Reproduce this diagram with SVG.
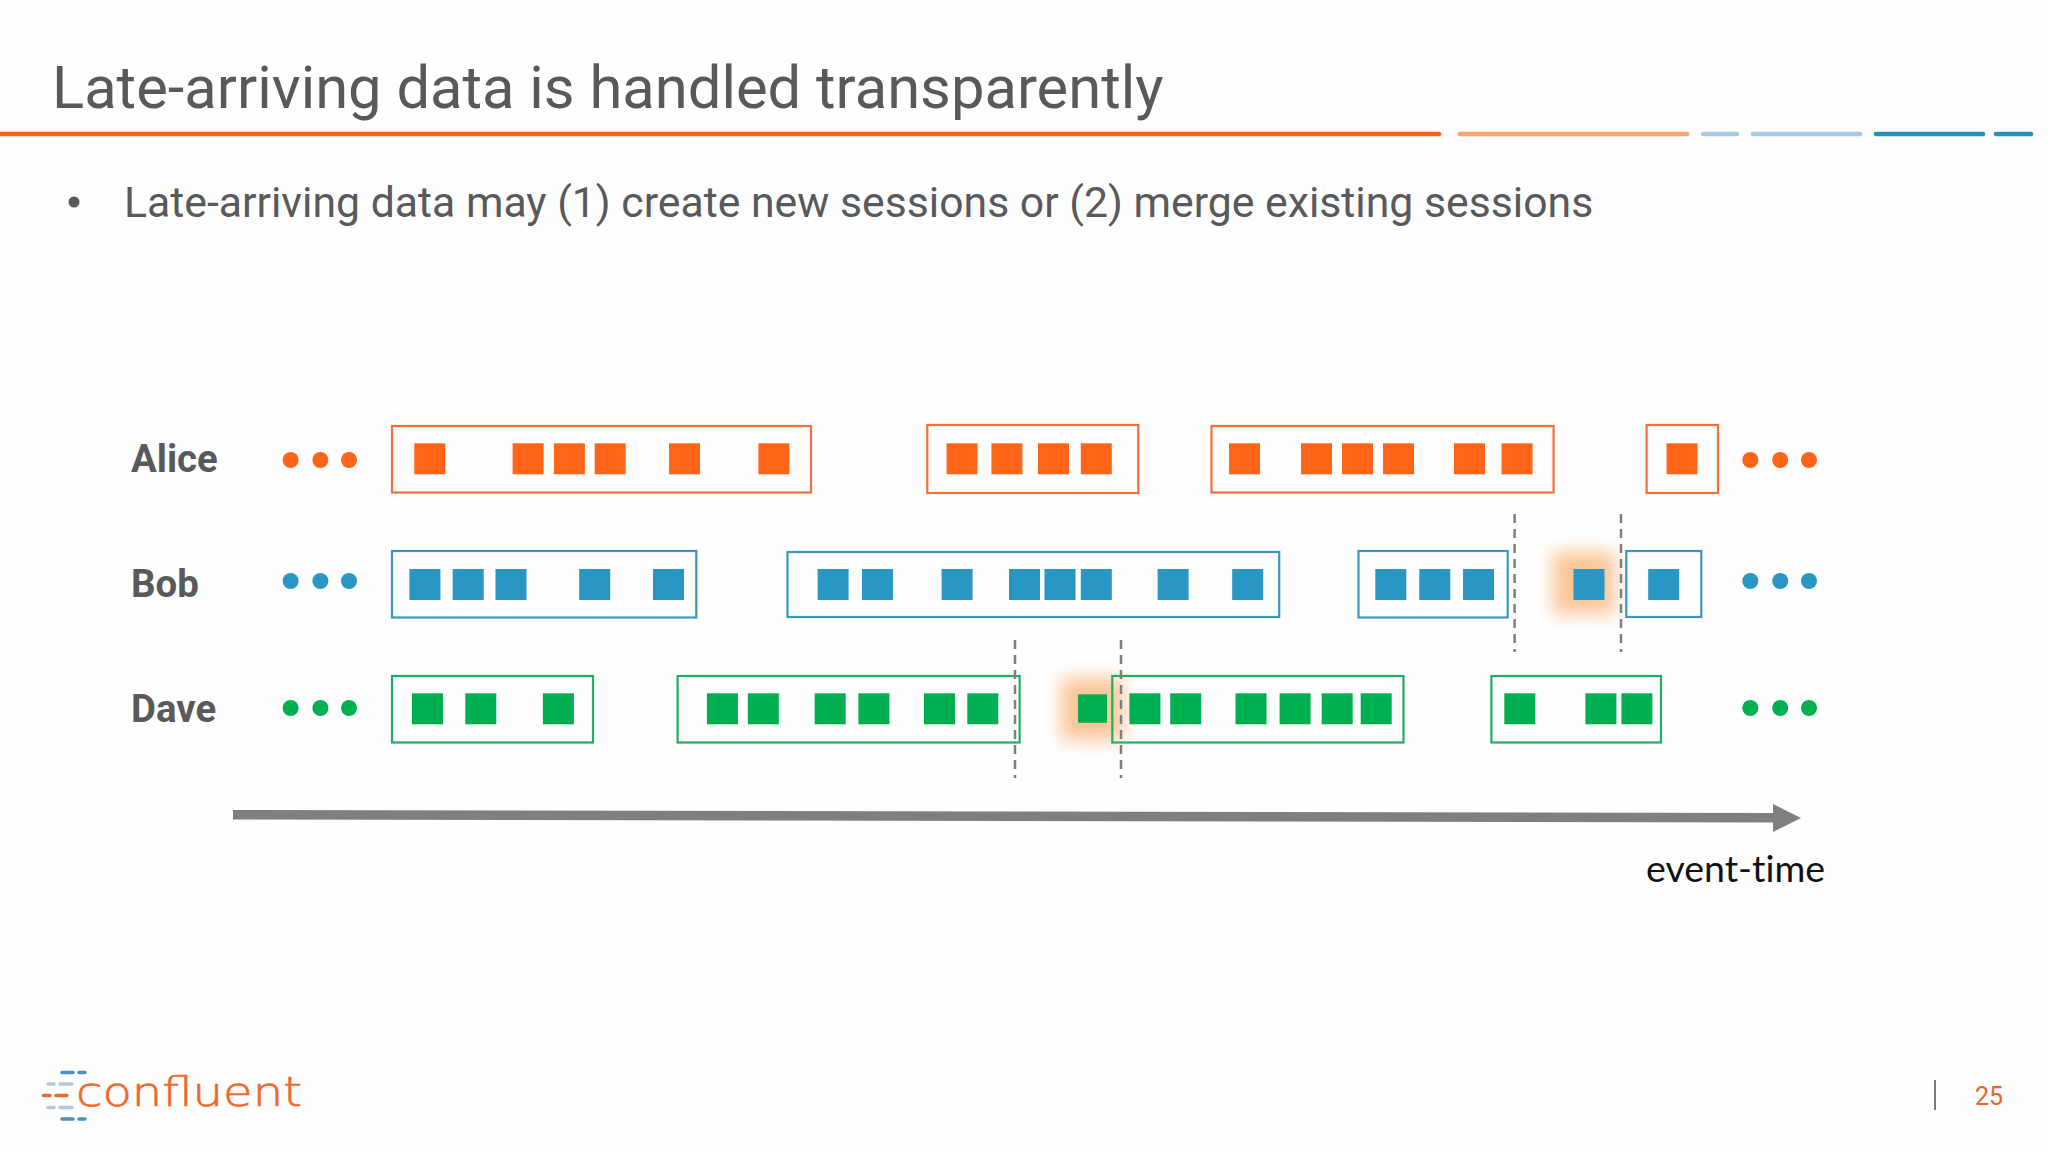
<svg xmlns="http://www.w3.org/2000/svg" width="2048" height="1152" viewBox="0 0 2048 1152">
<style>
.t{font-family:Roboto,"Liberation Sans",sans-serif;fill:#58595b}
.lab{font-size:38.400px;font-weight:700}
.o{fill:#ff6418}.b{fill:#2a96c4}.g{fill:#00b050}
.bo,.bb,.bg{fill:none;stroke-width:2.200}
.bo{stroke:#f4703a}.bb{stroke:#3a96bf}.bg{stroke:#1fae62}
.d{stroke:#7f7f80;stroke-width:2.500;stroke-dasharray:9 6;fill:none}
.hl{stroke-width:4.500;stroke-linecap:round;fill:none}
.lg{stroke-width:3.500;stroke-linecap:round;fill:none}
</style>
<defs>
<filter id="blur" x="-80%" y="-80%" width="260%" height="260%"><feGaussianBlur stdDeviation="9"/></filter>
<rect id="s" width="31" height="31"/>
</defs>
<rect width="2048" height="1152" fill="#fefefe"/>
<g id="header">
<text class="t" x="52" y="108" font-size="59.700">Late-arriving data is handled transparently</text>
<line class="hl" x1="0" y1="134" x2="1439" y2="134" stroke="#ff6418"/>
<line class="hl" x1="1460" y1="134" x2="1687" y2="134" stroke="#fba36d"/>
<line class="hl" x1="1703" y1="134" x2="1737" y2="134" stroke="#a3cbe5"/>
<line class="hl" x1="1753" y1="134" x2="1860" y2="134" stroke="#a3cbe5"/>
<line class="hl" x1="1876" y1="134" x2="1983" y2="134" stroke="#2a90b8"/>
<line class="hl" x1="1996" y1="134" x2="2031" y2="134" stroke="#2a90b8"/>
<circle cx="74" cy="202" r="5.500" fill="#58595b"/>
<text class="t" x="124" y="216.500" font-size="42.750">Late-arriving data may (1) create new sessions or (2) merge existing sessions</text>
</g>
<g id="glows">
<rect x="1553" y="552" width="62" height="62" fill="#fac596" filter="url(#blur)"/>
<rect x="1061" y="678" width="62" height="62" fill="#fac596" filter="url(#blur)"/>
</g>
<g id="alice">
<text class="t lab" x="131" y="472">Alice</text>
<g class="o">
<circle cx="290.600" cy="460" r="8"/><circle cx="320.400" cy="460" r="8"/><circle cx="349" cy="460" r="8"/>
<use href="#s" x="414.300" y="443.300"/><use href="#s" x="512.600" y="443.300"/><use href="#s" x="553.900" y="443.300"/><use href="#s" x="594.700" y="443.300"/><use href="#s" x="669" y="443.300"/><use href="#s" x="758.400" y="443.300"/>
<use href="#s" x="946.500" y="443.300"/><use href="#s" x="991.400" y="443.300"/><use href="#s" x="1038" y="443.300"/><use href="#s" x="1080.800" y="443.300"/>
<use href="#s" x="1229" y="443.300"/><use href="#s" x="1301" y="443.300"/><use href="#s" x="1342" y="443.300"/><use href="#s" x="1383" y="443.300"/><use href="#s" x="1454" y="443.300"/><use href="#s" x="1501.600" y="443.300"/>
<use href="#s" x="1666.500" y="443.300"/>
<circle cx="1750.300" cy="460" r="8"/><circle cx="1780.200" cy="460" r="8"/><circle cx="1809" cy="460" r="8"/>
</g>
<rect class="bo" x="392" y="426" width="419" height="66.500"/>
<rect class="bo" x="927.300" y="425" width="211" height="68"/>
<rect class="bo" x="1211.500" y="426" width="342.100" height="66.500"/>
<rect class="bo" x="1646.600" y="425" width="71.400" height="68"/>
</g>
<g id="bob">
<text class="t lab" x="131" y="597">Bob</text>
<g class="b">
<circle cx="290.600" cy="581" r="8"/><circle cx="320.400" cy="581" r="8"/><circle cx="349" cy="581" r="8"/>
<use href="#s" x="409.400" y="569"/><use href="#s" x="452.700" y="569"/><use href="#s" x="495.500" y="569"/><use href="#s" x="579.200" y="569"/><use href="#s" x="653" y="569"/>
<use href="#s" x="817.600" y="569"/><use href="#s" x="862" y="569"/><use href="#s" x="941.600" y="569"/><use href="#s" x="1009" y="569"/><use href="#s" x="1044.500" y="569"/><use href="#s" x="1080.800" y="569"/><use href="#s" x="1157.600" y="569"/><use href="#s" x="1232.200" y="569"/>
<use href="#s" x="1375.300" y="569"/><use href="#s" x="1419.300" y="569"/><use href="#s" x="1463" y="569"/>
<use href="#s" x="1573.500" y="569"/>
<use href="#s" x="1648.200" y="569"/>
<circle cx="1750.300" cy="581" r="8"/><circle cx="1780.200" cy="581" r="8"/><circle cx="1809" cy="581" r="8"/>
</g>
<rect class="bb" x="392" y="551" width="304.300" height="66.500"/>
<rect class="bb" x="787.500" y="552" width="491.700" height="65"/>
<rect class="bb" x="1358.500" y="551" width="149.200" height="66.500"/>
<rect class="bb" x="1626.300" y="551" width="75" height="66"/>
</g>
<g id="dave">
<text class="t lab" x="131" y="722">Dave</text>
<g class="g">
<circle cx="290.600" cy="708" r="8"/><circle cx="320.400" cy="708" r="8"/><circle cx="349" cy="708" r="8"/>
<use href="#s" x="412" y="693.300"/><use href="#s" x="465.300" y="693.300"/><use href="#s" x="542.900" y="693.300"/>
<use href="#s" x="706.900" y="693.300"/><use href="#s" x="747.800" y="693.300"/><use href="#s" x="814.700" y="693.300"/><use href="#s" x="858.400" y="693.300"/><use href="#s" x="924" y="693.300"/><use href="#s" x="967.300" y="693.300"/>
<rect x="1078" y="694.300" width="29" height="28.500"/>
<use href="#s" x="1129.400" y="693.300"/><use href="#s" x="1170.200" y="693.300"/><use href="#s" x="1235.500" y="693.300"/><use href="#s" x="1279.600" y="693.300"/><use href="#s" x="1321.700" y="693.300"/><use href="#s" x="1360.700" y="693.300"/>
<use href="#s" x="1504.300" y="693.300"/><use href="#s" x="1585.400" y="693.300"/><use href="#s" x="1621.400" y="693.300"/>
<circle cx="1750.300" cy="708" r="8"/><circle cx="1780.200" cy="708" r="8"/><circle cx="1809" cy="708" r="8"/>
</g>
<rect class="bg" x="392" y="676" width="201" height="66.500"/>
<rect class="bg" x="677.600" y="676" width="342" height="66.500"/>
<rect class="bg" x="1112.300" y="676" width="291.200" height="66.500"/>
<rect class="bg" x="1491.400" y="676" width="169.600" height="66.500"/>
</g>
<g id="connectors">
<line class="d" x1="1015" y1="640" x2="1015" y2="778"/>
<line class="d" x1="1121" y1="640" x2="1121" y2="778"/>
<line class="d" x1="1514.600" y1="514" x2="1514.600" y2="652"/>
<line class="d" x1="1621" y1="514" x2="1621" y2="652"/>
<polygon points="233,810 1773,813 1773,804 1801,818 1773,832 1773,822.500 233,819.500" fill="#7f7f80"/>
</g>
<text id="axis-label" x="1646" y="882" font-family="Lato,'Open Sans',sans-serif" font-size="37.500" fill="#111" style="font-variant-ligatures:none">event-time</text>
<g id="logo">
<g class="lg" stroke="#4a90c2"><path d="M62 1072.500H73M79 1072.500H85M62 1119H73M79 1119H85"/></g>
<g class="lg" stroke="#b4c7e0"><path d="M48 1084H54M60 1084H72M48 1107.500H54M60 1107.500H72"/></g>
<g class="lg" stroke="#f0672a"><path d="M43.500 1095.500H50M56 1095.500H67"/></g>
<text x="76" y="1106" font-family="'DejaVu Sans',sans-serif" font-weight="200" font-size="40" fill="#f0672a" stroke="#f0672a" stroke-width="0.600" textLength="226" lengthAdjust="spacingAndGlyphs">confluent</text>
</g>
<g id="page">
<line x1="1935" y1="1080" x2="1935" y2="1110" stroke="#77787b" stroke-width="2"/>
<text x="1975" y="1105" font-family="Roboto,sans-serif" font-size="25" fill="#e8672a">25</text>
</g>
</svg>
